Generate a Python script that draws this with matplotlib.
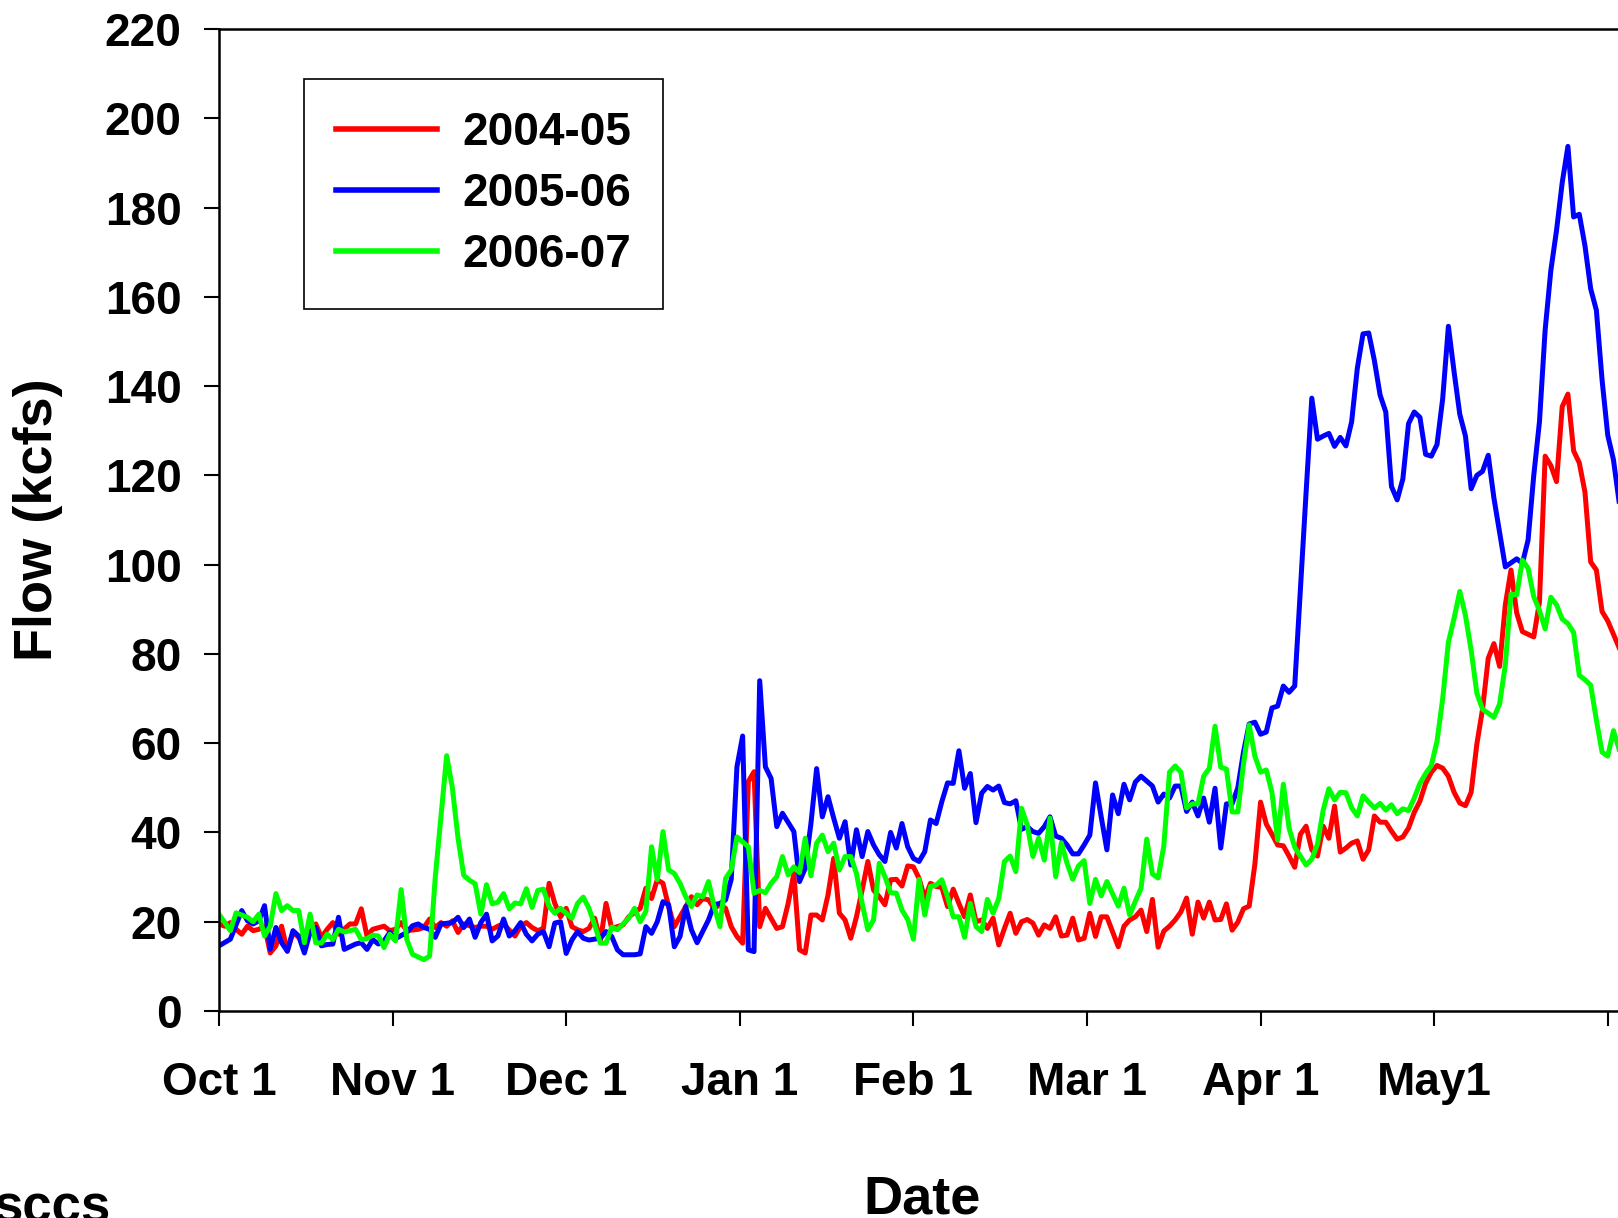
# River flow by water year, Oct 1 - late May, three seasons
import matplotlib
matplotlib.use('Agg')
import matplotlib.pyplot as plt

plt.rcParams['font.family'] = ['Liberation Sans', 'DejaVu Sans']
plt.rcParams['font.weight'] = 'bold'

# (days since Oct 1, flow in kcfs)
red_pts = [(0,19.5),(1,19),(2,19.8),(3,18.3),(4,17.2),(5,19),(6,18),(7,18.3),(8,19),(9,13),
    (10,14.6),(11,19),(12,13.4),(13,17.6),(14,16.5),(16,17.6),(17,19.5),(18,16.5),(19,18.3),(20,19.8),
    (21,17.2),(23,19.5),(24,19.5),(25,22.9),(26,16.8),(27,18.3),(29,19),(30,18),(31,18.3),(32,19.8),
    (33,18),(35,18.3),(36,18.7),(37,20.6),(38,18.7),(39,19.8),(40,19),(41,20.2),(42,17.6),(43,19.5),
    (45,18.7),(46,19),(47,19),(48,18.3),(49,19),(50,19.5),(52,16.8),(53,19),(54,19.8),(55,18.7),
    (56,18),(57,18.5),(58,28.6),(59,24.1),(60,21.1),(61,23),(62,18.9),(63,18.2),(64,17.8),(65,18.5),
    (66,20.8),(67,15.6),(68,24.1),(69,18.5),(70,18.9),(71,19.3),(72,21.1),(74,23),(75,27.5),(76,25.2),
    (77,29.4),(78,28.6),(79,23.4),(80,18.9),(82,23.4),(83,25.6),(84,23.8),(85,25.2),(86,24.9),(87,23),
    (88,23.8),(89,23),(90,18.9),(91,16.7),(92,15.2),(93,51.4),(94,53.6),(95,18.9),(96,23),(98,18.5),
    (99,18.9),(100,24.1),(101,30.8),(102,13.7),(103,13),(104,21.5),(105,21.5),(106,20.4),(107,26),(108,34.2),
    (109,21.9),(110,20.4),(111,16.3),(112,21.1),(113,27.1),(114,33.5),(115,27.1),(116,25.6),(117,23.8),(118,29.4),
    (119,29.5),(120,28),(121,32.5),(122,32.3),(123,29.7),(124,25.2),(125,28.6),(126,27.9),(127,27.7),(128,23.4),
    (129,27.3),(130,24.1),(131,21.1),(132,26),(133,20),(134,20.4),(135,18.5),(136,20.8),(137,14.8),(138,18.5),
    (139,21.9),(140,17.4),(141,20),(142,20.5),(143,19.7),(144,17),(145,19.3),(146,18.5),(147,21.1),(148,16.8),
    (149,17),(150,20.8),(151,15.9),(152,16.3),(153,21.9),(154,16.7),(155,21.1),(156,21.1),(158,14.4),(159,19),
    (160,20.4),(161,21.1),(162,22.6),(163,17.8),(164,25),(165,14.3),(166,17.9),(167,19),(168,20.4),(169,22.2),
    (170,25.3),(171,17.2),(172,24.4),(173,20.8),(174,24.4),(175,20.4),(176,20.5),(177,24),(178,18.1),(179,19.9),
    (180,22.9),(181,23.5),(182,32.9),(183,46.8),(184,41.9),(185,39.6),(186,37.2),(187,37),(188,34.7),(189,32.2),
    (190,39.6),(191,41.4),(192,36.1),(193,34.7),(194,41.4),(195,38.7),(196,45.9),(197,35.6),(198,36.5),(199,37.6),
    (200,38.1),(201,34),(202,36.1),(203,43.7),(204,42.3),(205,42.3),(206,40.3),(207,38.5),(208,39),(209,41),
    (210,44.5),(211,47),(212,51),(213,53.5),(214,55),(215,54.4),(216,52.6),(217,49),(218,46.6),(219,46),
    (220,49),(221,59.8),(222,67.6),(223,79),(224,82.3),(225,77.2),(226,91),(227,98.8),(228,89.2),(229,85),
    (230,84.4),(231,83.8),(232,91.6),(233,124.3),(234,122.2),(235,118.6),(236,135.4),(237,138.2),(238,125.5),(239,122.8),
    (240,116.2),(241,100.6),(242,98.8),(243,89.5),(244,87.4),(245,84.4),(246,81.4)]

blue_pts = [(0,14.6),(2,16.1),(4,22.5),(5,20.2),(6,19.5),(7,20.2),(8,23.6),(9,13.8),(10,18.7),(11,15.3),
    (12,13.4),(13,18),(14,16.8),(15,13),(16,17.6),(17,18.7),(18,14.6),(19,14.9),(20,15),(21,21),
    (22,13.8),(24,15),(25,15.3),(26,13.8),(27,16),(28,15),(29,15.7),(30,17.6),(31,16.2),(33,17.6),
    (34,19.1),(35,19.5),(36,18.7),(37,18.3),(38,16.5),(39,19.5),(41,19.8),(42,21),(43,18.7),(44,20.6),
    (45,16.5),(46,19.8),(47,21.7),(48,15.7),(49,16.8),(50,20.6),(51,16.8),(52,18),(53,19.8),(54,17.2),
    (55,15.7),(56,17.2),(57,17.8),(58,14.4),(59,19.7),(60,20),(61,12.9),(62,15.9),(63,17.8),(64,16.3),
    (65,15.9),(67,16.3),(68,17.8),(69,16.7),(70,13.7),(71,12.6),(73,12.6),(74,12.8),(75,18.9),(76,17.4),
    (77,20),(78,24.5),(79,23.8),(80,14.4),(81,16.7),(82,23.4),(83,18.2),(84,15.3),(86,20.4),(87,23.8),
    (88,24.1),(89,24.9),(90,29.5),(91,54.7),(92,61.6),(93,13.7),(94,13.3),(95,74),(96,54.7),(97,52.1),
    (98,41.3),(99,44.3),(101,40.2),(102,29),(103,32),(104,42),(105,54.3),(106,43.5),(107,48),(108,43.2),
    (109,38.7),(110,42.4),(111,32.7),(112,40.6),(113,34.6),(114,40.2),(115,37.2),(116,35),(117,33.5),(118,40),
    (119,36.5),(120,42),(121,36.8),(122,34.2),(123,33.5),(124,35.7),(125,42.8),(126,42),(127,46.9),(128,51.1),
    (129,51),(130,58.3),(131,49.9),(132,53.2),(133,42.2),(134,48.8),(135,50.3),(136,49.5),(137,50.4),(138,46.7),
    (139,46.4),(140,47.1),(141,40.7),(142,41.3),(143,40.2),(144,39.8),(145,41.3),(146,43.5),(147,39.2),(148,38.7),
    (149,37.2),(150,35.2),(151,35.2),(152,37.2),(153,39.4),(154,51.1),(155,43.5),(156,36.1),(157,48.4),(158,44.2),
    (159,50.8),(160,47.3),(161,51.3),(162,52.6),(164,50.4),(165,46.8),(166,48.6),(167,47.7),(168,50.4),(169,50.4),
    (170,44.7),(171,46.8),(172,43.7),(173,47.7),(174,42.3),(175,49.9),(176,36.5),(177,46.4),(178,46.4),(179,50),
    (180,58),(181,64.3),(182,64.7),(183,62),(184,62.5),(185,67.9),(186,68.3),(187,72.8),(188,71.4),(189,72.8),
    (190,94.7),(191,116.2),(192,137.3),(193,128.1),(194,128.8),(195,129.4),(196,126.5),(197,128.5),(198,126.6),(199,132),
    (200,144),(201,151.7),(202,151.9),(203,145.7),(204,138),(205,134.2),(206,117.5),(207,114.5),(208,119.2),(209,131.6),
    (210,134.2),(211,133),(212,124.7),(213,124.3),(214,126.9),(215,137.2),(216,153.4),(217,143.2),(218,133.7),(219,128.8),
    (220,117),(221,120),(222,120.9),(223,124.5),(224,114.9),(225,107.2),(226,99.5),(228,101.3),(229,100.3),(230,105.5),
    (231,120),(232,132),(233,152.6),(234,165.9),(235,174.9),(236,185.6),(237,193.7),(238,177.9),(239,178.5),(240,171.4),
    (241,161.8),(242,157),(243,141.4),(244,129),(245,123.5),(246,114)]

green_pts = [(0,21.7),(2,18),(3,22),(5,21),(6,20),(7,21.7),(8,16.8),(9,19),(10,26.3),(11,22.5),
    (12,23.6),(13,22.5),(14,22.5),(15,15.3),(16,21.7),(17,15.3),(18,15.2),(19,17.2),(20,16),(21,18.3),
    (22,17.7),(24,18.3),(25,16),(26,16.2),(27,17),(28,16.8),(29,14.2),(30,17.2),(31,15.7),(32,27.2),
    (33,16),(34,12.7),(36,11.5),(37,12.3),(38,30),(40,57.2),(41,50),(42,38.7),(43,30.4),(44,29.3),
    (45,28.5),(46,21.7),(47,28.3),(48,24),(49,24.4),(50,26.3),(51,22.9),(52,24.2),(53,24),(54,27.4),
    (55,23.2),(56,27),(57,27.3),(58,23.4),(59,21.9),(60,23),(61,21.9),(62,20.8),(63,24.1),(64,25.5),
    (65,23),(66,19.3),(67,15.2),(68,15.2),(69,18.8),(70,18.2),(72,20.8),(73,23),(74,20),(75,22.3),
    (76,36.8),(77,29.4),(78,40.2),(79,31.6),(80,30.8),(81,28.6),(82,25.6),(83,23.4),(84,26),(85,25.6),
    (86,29),(87,23.4),(88,18.9),(89,29.7),(90,31.6),(91,39),(93,36.8),(94,26.4),(95,27),(96,26.5),
    (97,28.6),(98,30.1),(99,34.6),(100,30.5),(101,32.3),(102,31),(103,38.7),(104,30.3),(105,37.6),(106,39.4),
    (107,35.7),(108,37.6),(109,31.6),(110,34.6),(111,34.6),(112,30.8),(113,24.1),(114,18.2),(115,20.4),(116,33.1),
    (117,30.1),(118,26.5),(119,26.4),(120,22.6),(121,20.5),(122,16.1),(123,29.5),(124,21.5),(125,27.9),(126,28.2),
    (127,29.4),(128,25.6),(129,21.1),(130,21.1),(131,16.5),(132,24.1),(133,18.9),(134,17.8),(135,25),(136,21.9),
    (137,25.2),(138,33.5),(139,34.7),(140,31.2),(141,45.4),(142,41.7),(143,34.6),(144,38.7),(145,33.8),(146,43.2),
    (147,30.1),(148,37.7),(149,33.1),(150,29.5),(151,32.5),(152,33.7),(153,24.1),(154,29.5),(155,25.8),(156,29),
    (158,23.5),(159,27.5),(160,21.5),(161,24.6),(162,27.5),(163,38.5),(164,30.7),(165,29.8),(166,37),(167,53.5),
    (168,54.9),(169,53.5),(170,45.5),(171,46.4),(172,46.4),(173,52.6),(174,54.4),(175,63.8),(176,54.6),(177,54.2),
    (178,44.6),(179,44.6),(180,55.3),(181,64.1),(182,57.1),(183,53.5),(184,54),(185,49),(186,38.3),(187,50.8),
    (188,41),(189,36.7),(190,34.7),(191,32.7),(192,34),(193,37.4),(194,45),(195,49.8),(196,47.3),(197,49),
    (198,48.9),(199,45.5),(200,43.7),(201,48.2),(202,46.8),(203,45.5),(204,46.5),(205,45),(206,46.2),(207,44.2),
    (208,45.3),(209,44.9),(210,47.7),(211,51),(212,53.2),(213,55),(214,60.4),(215,70),(216,82.6),(217,88),
    (218,94),(219,88.6),(220,80.8),(221,71.2),(222,67.6),(224,65.8),(225,68.8),(226,77.5),(227,93.4),(228,93.2),
    (229,101),(230,99.2),(231,92.8),(232,89.7),(233,85.6),(234,92.7),(235,91),(236,87.8),(237,86.8),(238,84.8),
    (239,75.2),(240,74.2),(241,73),(242,65.2),(243,58),(244,57.1),(245,62.8),(246,58.6)]

seasons = ['2004-05', '2005-06', '2006-07']
colors = ['#ff0000', '#0000ff', '#00ff00']

# month ticks are evenly spaced on the original axis
month_len = 30.5
month_labels = ['Oct 1', 'Nov 1', 'Dec 1', 'Jan 1', 'Feb 1', 'Mar 1', 'Apr 1', 'May1', '']

fig = plt.figure(figsize=(16.18, 12.18), dpi=100)
ax = fig.add_axes([219/1618, 207/1218, 1 - 219/1618, 982/1218])

for pts, lab, c in zip([red_pts, blue_pts, green_pts], seasons, colors):
    days, flow = zip(*pts)
    ax.plot(days, flow, color=c, lw=3.6, label=lab)

ax.set_xlim(0, 245.8)
ax.set_ylim(0, 220)
ax.set_yticks(range(0, 221, 20))
ax.set_xticks([i * month_len for i in range(len(month_labels))])
ax.set_xticklabels(month_labels)

for s in ['left', 'bottom', 'top']:
    ax.spines[s].set_linewidth(1.8)
ax.spines['right'].set_visible(False)

ax.tick_params(axis='both', direction='out', length=11, width=1.5, labelsize=33)
ax.tick_params(axis='x', pad=25)
ax.tick_params(axis='y', pad=16)

leg = ax.legend(loc='upper left', bbox_to_anchor=(0.0608, 0.949), fontsize=33,
                frameon=True, fancybox=False, framealpha=1, edgecolor='black',
                borderpad=0.7, handlelength=2.2, handletextpad=0.55, labelspacing=0.37,
                borderaxespad=0)
leg.get_frame().set_linewidth(1.2)
for line in leg.get_lines():
    line.set_linewidth(4)

fig.text(38/1618, 1 - 520/1218, 'Flow (kcfs)', rotation=90, ha='center', va='center',
         fontsize=39, fontweight='bold')
fig.text(922/1618, 5/1218, 'Date', ha='center', va='baseline', fontsize=39, fontweight='bold')
fig.text(-0.004, -0.004, 'sccs', ha='left', va='baseline', fontsize=38, fontweight='bold')

fig.savefig('out.png', dpi=100)
